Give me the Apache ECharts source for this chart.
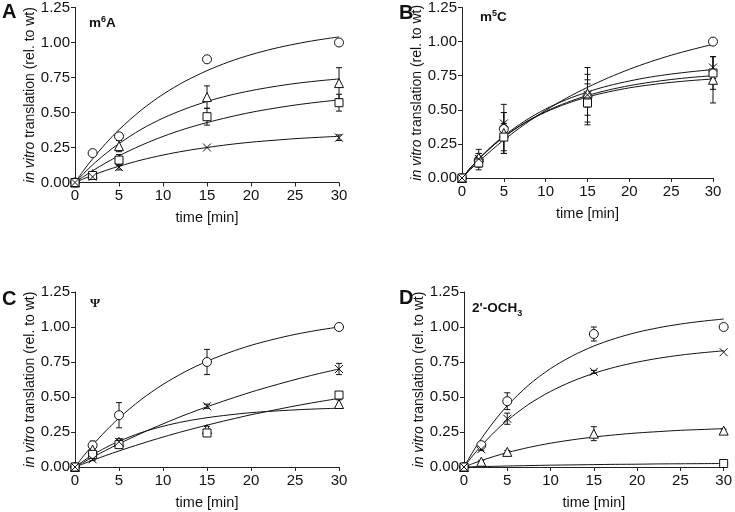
<!DOCTYPE html>
<html><head><meta charset="utf-8">
<script src="https://cdn.jsdelivr.net/npm/echarts@6/dist/echarts.min.js"></script>
<style>html,body{margin:0;padding:0;background:#fff}#c{width:735px;height:512px}</style>
</head><body><div id="c"></div>
<script>
// ---- sampling times ----
const T = [0, 2, 5, 15, 30];                                   // measured time points [min]
const TF = [0, 1, 2, 3.5, 5, 7.5, 10, 12.5, 15, 17.5, 20, 22.5, 25, 27.5, 30]; // curve read-off times
const xTicks = [0, 5, 10, 15, 20, 25, 30];
const yTicks = [0, 0.25, 0.5, 0.75, 1.0, 1.25];

// ---- Panel A (m6A) ----
const A_circle   = [0, 0.21, 0.33, 0.88, 1.00];
const A_circleSD = [0, 0.015, 0.02, 0, 0];
const A_tri      = [0, 0.06, 0.26, 0.61, 0.71];
const A_triSD    = [0, 0.01, 0.04, 0.08, 0.11];
const A_sq       = [0, 0.05, 0.16, 0.47, 0.57];
const A_sqSD     = [0, 0.01, 0.04, 0.06, 0.06];
const A_x        = [0, 0.04, 0.11, 0.25, 0.32];
const A_xSD      = [0, 0.01, 0.02, 0, 0.02];
const A_circleFit = [0, 0.088, 0.169, 0.279, 0.377, 0.516, 0.630, 0.723, 0.799, 0.862, 0.913, 0.955, 0.989, 1.017, 1.040];
const A_triFit    = [0, 0.065, 0.126, 0.207, 0.278, 0.379, 0.460, 0.525, 0.579, 0.622, 0.656, 0.684, 0.707, 0.725, 0.740];
const A_sqFit     = [0, 0.043, 0.084, 0.140, 0.191, 0.265, 0.329, 0.383, 0.428, 0.467, 0.501, 0.529, 0.553, 0.573, 0.590];
const A_xFit      = [0, 0.027, 0.052, 0.086, 0.116, 0.160, 0.196, 0.226, 0.250, 0.271, 0.288, 0.301, 0.313, 0.322, 0.330];

// ---- Panel B (m5C) ----
const B_circle   = [0, 0.13, 0.36, 0.60, 1.00];
const B_circleSD = [0, 0.05, 0.18, 0.21, 0];
const B_tri      = [0, 0.15, 0.33, 0.62, 0.72];
const B_triSD    = [0, 0.06, 0.15, 0.10, 0.17];
const B_sq       = [0, 0.11, 0.30, 0.55, 0.77];
const B_sqSD     = [0, 0.05, 0.10, 0.14, 0.12];
const B_x        = [0, 0.14, 0.40, 0.61, 0.81];
const B_xSD      = [0, 0.04, 0.08, 0.15, 0.08];
const B_circleFit = [0, 0.062, 0.120, 0.202, 0.279, 0.394, 0.496, 0.586, 0.665, 0.735, 0.797, 0.852, 0.900, 0.942, 0.980];
const B_triFit    = [0, 0.073, 0.139, 0.226, 0.301, 0.403, 0.483, 0.545, 0.594, 0.631, 0.661, 0.683, 0.701, 0.715, 0.726];
const B_sqFit     = [0, 0.072, 0.138, 0.225, 0.301, 0.406, 0.488, 0.553, 0.605, 0.645, 0.677, 0.702, 0.722, 0.738, 0.750];
const B_xFit      = [0, 0.073, 0.140, 0.230, 0.309, 0.418, 0.506, 0.575, 0.631, 0.676, 0.711, 0.740, 0.762, 0.780, 0.795];

// ---- Panel C (Psi) ----
const C_circle   = [0, 0.155, 0.37, 0.75, 1.00];
const C_circleSD = [0, 0.03, 0.09, 0.09, 0];
const C_tri      = [0, 0.125, 0.18, 0.27, 0.45];
const C_triSD    = [0, 0.03, 0.02, 0.02, 0.03];
const C_sq       = [0, 0.09, 0.16, 0.243, 0.514];
const C_sqSD     = [0, 0.02, 0.02, 0.02, 0.02];
const C_x        = [0, 0.055, 0.18, 0.434, 0.70];
const C_xSD      = [0, 0.01, 0.02, 0.015, 0.04];
const C_circleFit = [0, 0.081, 0.156, 0.258, 0.350, 0.481, 0.590, 0.680, 0.755, 0.817, 0.869, 0.911, 0.947, 0.976, 1.000];
const C_triFit    = [0, 0.045, 0.086, 0.139, 0.184, 0.245, 0.291, 0.326, 0.352, 0.372, 0.388, 0.399, 0.408, 0.415, 0.420];
const C_sqFit     = [0, 0.024, 0.048, 0.082, 0.115, 0.166, 0.214, 0.258, 0.299, 0.337, 0.373, 0.405, 0.436, 0.464, 0.490];
const C_xFit      = [0, 0.035, 0.070, 0.119, 0.166, 0.240, 0.308, 0.372, 0.430, 0.484, 0.535, 0.581, 0.624, 0.664, 0.700];

// ---- Panel D (2'-OCH3) ----
const D_circle   = [0, 0.156, 0.47, 0.95, 1.00];
const D_circleSD = [0, 0.01, 0.06, 0.05, 0];
const D_tri      = [0, 0.038, 0.108, 0.238, 0.26];
const D_triSD    = [0, 0.01, 0.01, 0.05, 0.01];
const D_sq       = [0, null, null, null, 0.025];
const D_sqSD     = [0, 0, 0, 0, 0];
const D_x        = [0, 0.127, 0.345, 0.68, 0.82];
const D_xSD      = [0, 0.01, 0.04, 0.01, 0];
const D_circleFit = [0, 0.106, 0.202, 0.328, 0.438, 0.587, 0.703, 0.793, 0.864, 0.919, 0.962, 0.995, 1.021, 1.041, 1.057];
const D_triFit    = [0, 0.024, 0.046, 0.076, 0.103, 0.140, 0.170, 0.194, 0.214, 0.230, 0.243, 0.253, 0.262, 0.268, 0.274];
const D_sqFit     = [0, 0.002, 0.003, 0.005, 0.007, 0.010, 0.013, 0.015, 0.017, 0.019, 0.020, 0.022, 0.023, 0.024, 0.025];
const D_xFit      = [0, 0.080, 0.152, 0.249, 0.333, 0.449, 0.540, 0.612, 0.669, 0.714, 0.749, 0.777, 0.799, 0.816, 0.830];

const panelLetters = ['A', 'B', 'C', 'D'];
const xName = 'time [min]';
const yName = '{i|in vitro} translation (rel. to wt)';

// ---- build chart ----
const FONT = '"Liberation Sans", Arial, Helvetica, sans-serif';
const NARROW = '"Liberation Sans Narrow", "Arial Narrow", "Liberation Sans", Arial, sans-serif';
const grids = [
  { left: 75, top: 5, width: 264, height: 177.5 },
  { left: 462, top: 5, width: 251, height: 173 },
  { left: 75, top: 292, width: 264, height: 175 },
  { left: 464, top: 292, width: 264, height: 175 }
];
const panels = [
  { circle: [A_circle, A_circleSD, A_circleFit], tri: [A_tri, A_triSD, A_triFit], sq: [A_sq, A_sqSD, A_sqFit], x: [A_x, A_xSD, A_xFit] },
  { circle: [B_circle, B_circleSD, B_circleFit], tri: [B_tri, B_triSD, B_triFit], sq: [B_sq, B_sqSD, B_sqFit], x: [B_x, B_xSD, B_xFit] },
  { circle: [C_circle, C_circleSD, C_circleFit], tri: [C_tri, C_triSD, C_triFit], sq: [C_sq, C_sqSD, C_sqFit], x: [C_x, C_xSD, C_xFit] },
  { circle: [D_circle, D_circleSD, D_circleFit], tri: [D_tri, D_triSD, D_triFit], sq: [D_sq, D_sqSD, D_sqFit], x: [D_x, D_xSD, D_xFit] }
];
const symbols = {
  circle: { symbol: 'circle', size: 9 },
  tri: { symbol: 'triangle', size: 9 },
  sq: { symbol: 'rect', size: 8 },
  x: { symbol: 'path://M0,0L10,10M10,0L0,10', size: 8 }
};

const xAxes = [], yAxes = [], series = [];
grids.forEach((g, i) => {
  xAxes.push({
    gridIndex: i, type: 'value', min: xTicks[0], max: xTicks[xTicks.length - 1], interval: 5,
    name: xName, nameLocation: 'middle', nameGap: 28,
    nameTextStyle: { fontFamily: FONT, fontSize: 14.5, color: '#111' },
    axisLine: { lineStyle: { color: '#222', width: 1 } },
    axisTick: { length: 4, lineStyle: { color: '#222' } },
    axisLabel: { fontFamily: NARROW, fontSize: 15, color: '#111', margin: 6 },
    splitLine: { show: false }
  });
  yAxes.push({
    gridIndex: i, type: 'value', min: yTicks[0], max: yTicks[yTicks.length - 1], interval: 0.25,
    name: yName, nameLocation: 'middle', nameGap: 36,
    nameTextStyle: { fontFamily: FONT, fontSize: 14, color: '#111',
      rich: { i: { fontStyle: 'italic', fontFamily: FONT, fontSize: 14, color: '#111' } } },
    axisLine: { show: true, lineStyle: { color: '#222', width: 1 } },
    axisTick: { show: true, length: 4, lineStyle: { color: '#222' } },
    axisLabel: { fontFamily: NARROW, fontSize: 15, color: '#111', margin: 5, formatter: v => v.toFixed(2) },
    splitLine: { show: false }
  });
  const p = panels[i];
  ['circle', 'tri', 'sq', 'x'].forEach(k => {
    const [vals, sd, fit] = p[k];
    series.push({
      type: 'line', xAxisIndex: i, yAxisIndex: i, smooth: 0.3, showSymbol: false, silent: true,
      lineStyle: { color: '#111', width: 1 }, z: 2,
      data: TF.map((t, j) => [t, fit[j]])
    });
    series.push({
      type: 'custom', xAxisIndex: i, yAxisIndex: i, z: 3, silent: true,
      data: T.map((t, j) => [t, vals[j] - sd[j], vals[j] + sd[j]]).filter(d => vals[T.indexOf(d[0])] != null && d[2] > d[1]),
      renderItem: (params, api) => {
        const t = api.value(0);
        const lo = api.coord([t, api.value(1)]);
        const hi = api.coord([t, api.value(2)]);
        const w = 3;
        const st = { stroke: '#111', lineWidth: 1 };
        return { type: 'group', children: [
          { type: 'line', shape: { x1: lo[0], y1: lo[1], x2: hi[0], y2: hi[1] }, style: st },
          { type: 'line', shape: { x1: lo[0] - w, y1: lo[1], x2: lo[0] + w, y2: lo[1] }, style: st },
          { type: 'line', shape: { x1: hi[0] - w, y1: hi[1], x2: hi[0] + w, y2: hi[1] }, style: st }
        ] };
      }
    });
    series.push({
      type: 'scatter', xAxisIndex: i, yAxisIndex: i, z: 4, silent: true,
      symbol: symbols[k].symbol, symbolSize: symbols[k].size,
      itemStyle: { color: k === 'x' ? 'none' : '#fff', borderColor: '#111', borderWidth: 1, opacity: 1 },
      data: T.map((t, j) => vals[j] == null ? null : [t, vals[j]]).filter(d => d)
    });
  });
});

const letterStyle = { font: 'bold 20px ' + FONT, fill: '#111' };
const graphic = [
  { type: 'text', left: 2, top: 2, style: Object.assign({ text: panelLetters[0] }, letterStyle) },
  { type: 'text', left: 399, top: 3, style: Object.assign({ text: panelLetters[1] }, letterStyle) },
  { type: 'text', left: 2, top: 289, style: Object.assign({ text: panelLetters[2] }, letterStyle) },
  { type: 'text', left: 399, top: 288, style: Object.assign({ text: panelLetters[3] }, letterStyle) },
  { type: 'text', left: 89, top: 15, style: { text: '{a|m}{s|6}{a|A}', rich: {
      a: { font: 'bold 13.5px ' + FONT, fill: '#111', verticalAlign: 'bottom', lineHeight: 15 },
      s: { font: 'bold 9px ' + FONT, fill: '#111', verticalAlign: 'top', lineHeight: 15 } } } },
  { type: 'text', left: 480, top: 9, style: { text: '{a|m}{s|5}{a|C}', rich: {
      a: { font: 'bold 13.5px ' + FONT, fill: '#111', verticalAlign: 'bottom', lineHeight: 15 },
      s: { font: 'bold 9px ' + FONT, fill: '#111', verticalAlign: 'top', lineHeight: 15 } } } },
  { type: 'text', left: 90, top: 297, style: { text: 'Ψ', font: 'bold 13px "Liberation Serif", "DejaVu Serif", serif', fill: '#111' } },
  { type: 'text', left: 472, top: 301, style: { text: "{a|2'-OCH}{s|3}", rich: {
      a: { font: 'bold 13.5px ' + FONT, fill: '#111', verticalAlign: 'top', lineHeight: 17 },
      s: { font: 'bold 9px ' + FONT, fill: '#111', verticalAlign: 'bottom', lineHeight: 17 } } } }
];

const chart = echarts.init(document.getElementById('c'), null, { renderer: 'canvas' });
chart.setOption({
  animation: false,
  backgroundColor: '#fff',
  grid: grids,
  xAxis: xAxes,
  yAxis: yAxes,
  series: series,
  graphic: graphic
});
</script>
</body></html>
